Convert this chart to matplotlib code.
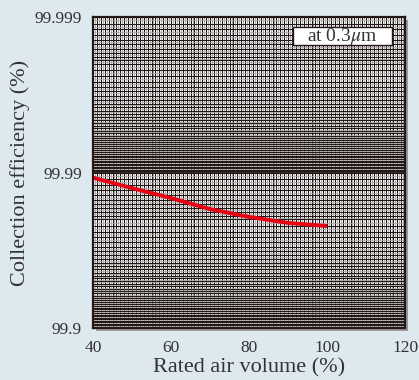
import numpy as np
import matplotlib
matplotlib.use("Agg")
import matplotlib.pyplot as plt
from matplotlib.patches import Rectangle

# data
air_volume = [40, 50, 60, 70, 80, 90, 100]
efficiency = [99.9892, 99.9874, 99.9854, 99.9828, 99.9807, 99.9789, 99.9779]
x_ticks = [40, 60, 80, 100, 120]
y_ticks = [99.9, 99.99, 99.999]
y_tick_labels = ["99.9", "99.99", "99.999"]

BG = "#dde9ef"
plt.rcParams["font.family"] = ["Liberation Serif", "DejaVu Serif"]
plt.rcParams["mathtext.fontset"] = "stix"

fig = plt.figure(figsize=(4.19, 3.80), dpi=100, facecolor=BG)
ax = fig.add_axes([0.222, 0.137, 0.745, 0.818])
ax.set_facecolor("white")
ax.set_zorder(2)

def fwd(e):
    e = np.asarray(e, dtype=float)
    return -np.log10(np.clip(100.0 - e, 1e-9, None))

def inv(v):
    return 100.0 - 10.0 ** (-np.asarray(v, dtype=float))

ax.set_yscale("function", functions=(fwd, inv))
ax.set_xlim(40, 120)
ax.set_ylim(99.9, 99.999)

# grid (graph paper)
xs_minor = np.arange(40.5, 120, 1.0)
xs_major = np.arange(41, 120, 1.0)
ax.vlines(xs_minor, 99.9, 99.999, colors="#a8a4a4", lw=0.6, zorder=1)
ax.vlines(xs_major, 99.9, 99.999, colors="#1e1414", lw=0.8, zorder=1)

segments = [(1.0, 2.0, 0.1, 0.05), (2.0, 5.0, 0.2, 0.1), (5.0, 10.0, 0.2, 0.1)]
pen_major, pen_minor = [], []
for dec in [0.001, 0.01]:
    for lo, hi, dmaj, dmin in segments:
        for v in np.arange(lo, hi - 1e-9, dmaj):
            pen_major.append(v * dec)
        for v in np.arange(lo, hi - 1e-9, dmin):
            pen_minor.append(v * dec)
pen_major = np.array(pen_major)
pen_minor = np.array(pen_minor)
ax.hlines(100 - pen_minor, 40, 120, colors="#a8a4a4", lw=0.5, zorder=1)
ax.hlines(100 - pen_major, 40, 120, colors="#1e1414", lw=0.7, zorder=1)
ax.hlines([99.99], 40, 120, colors="#1e1414", lw=1.2, zorder=1)

ax.plot(air_volume, efficiency, color="#e60012", lw=2.8, zorder=5, solid_capstyle="butt")

ax.set_xticks(x_ticks)
ax.set_xticklabels([str(t) for t in x_ticks])
ax.set_yticks(y_ticks)
ax.set_yticklabels(y_tick_labels)
ax.yaxis.set_minor_locator(matplotlib.ticker.NullLocator())
ax.tick_params(length=0, labelsize=12.5, colors="#333333", pad=8)
ax.tick_params(axis="x", pad=9)

for s in ax.spines.values():
    s.set_color("#231815")
    s.set_linewidth(1.6)
    s.set_zorder(6)

ax.set_xlabel("Rated air volume (%)", fontsize=16, color="#333333", labelpad=1)
ax.set_ylabel("Collection efficiency (%)", fontsize=16, color="#333333", labelpad=3)

ax.add_patch(Rectangle((0.641, 0.91), 0.317, 0.058, transform=ax.transAxes,
                       fc="white", ec="#231815", lw=1.0, zorder=9))
ax.text(0.80, 0.937, "at 0.3$\\mu$m", transform=ax.transAxes, ha="center", va="center",
        fontsize=14, color="#333333", zorder=10)

# shadow
pos = ax.get_position()
dx, dy = 3 / 419, 3 / 380
fig.patches.append(Rectangle((pos.x0 + dx, pos.y0 - dy), pos.width, pos.height,
                             transform=fig.transFigure, fc="#9a9a9a", ec="none", zorder=-1))

fig.savefig("out.png", dpi=100, facecolor=BG)
